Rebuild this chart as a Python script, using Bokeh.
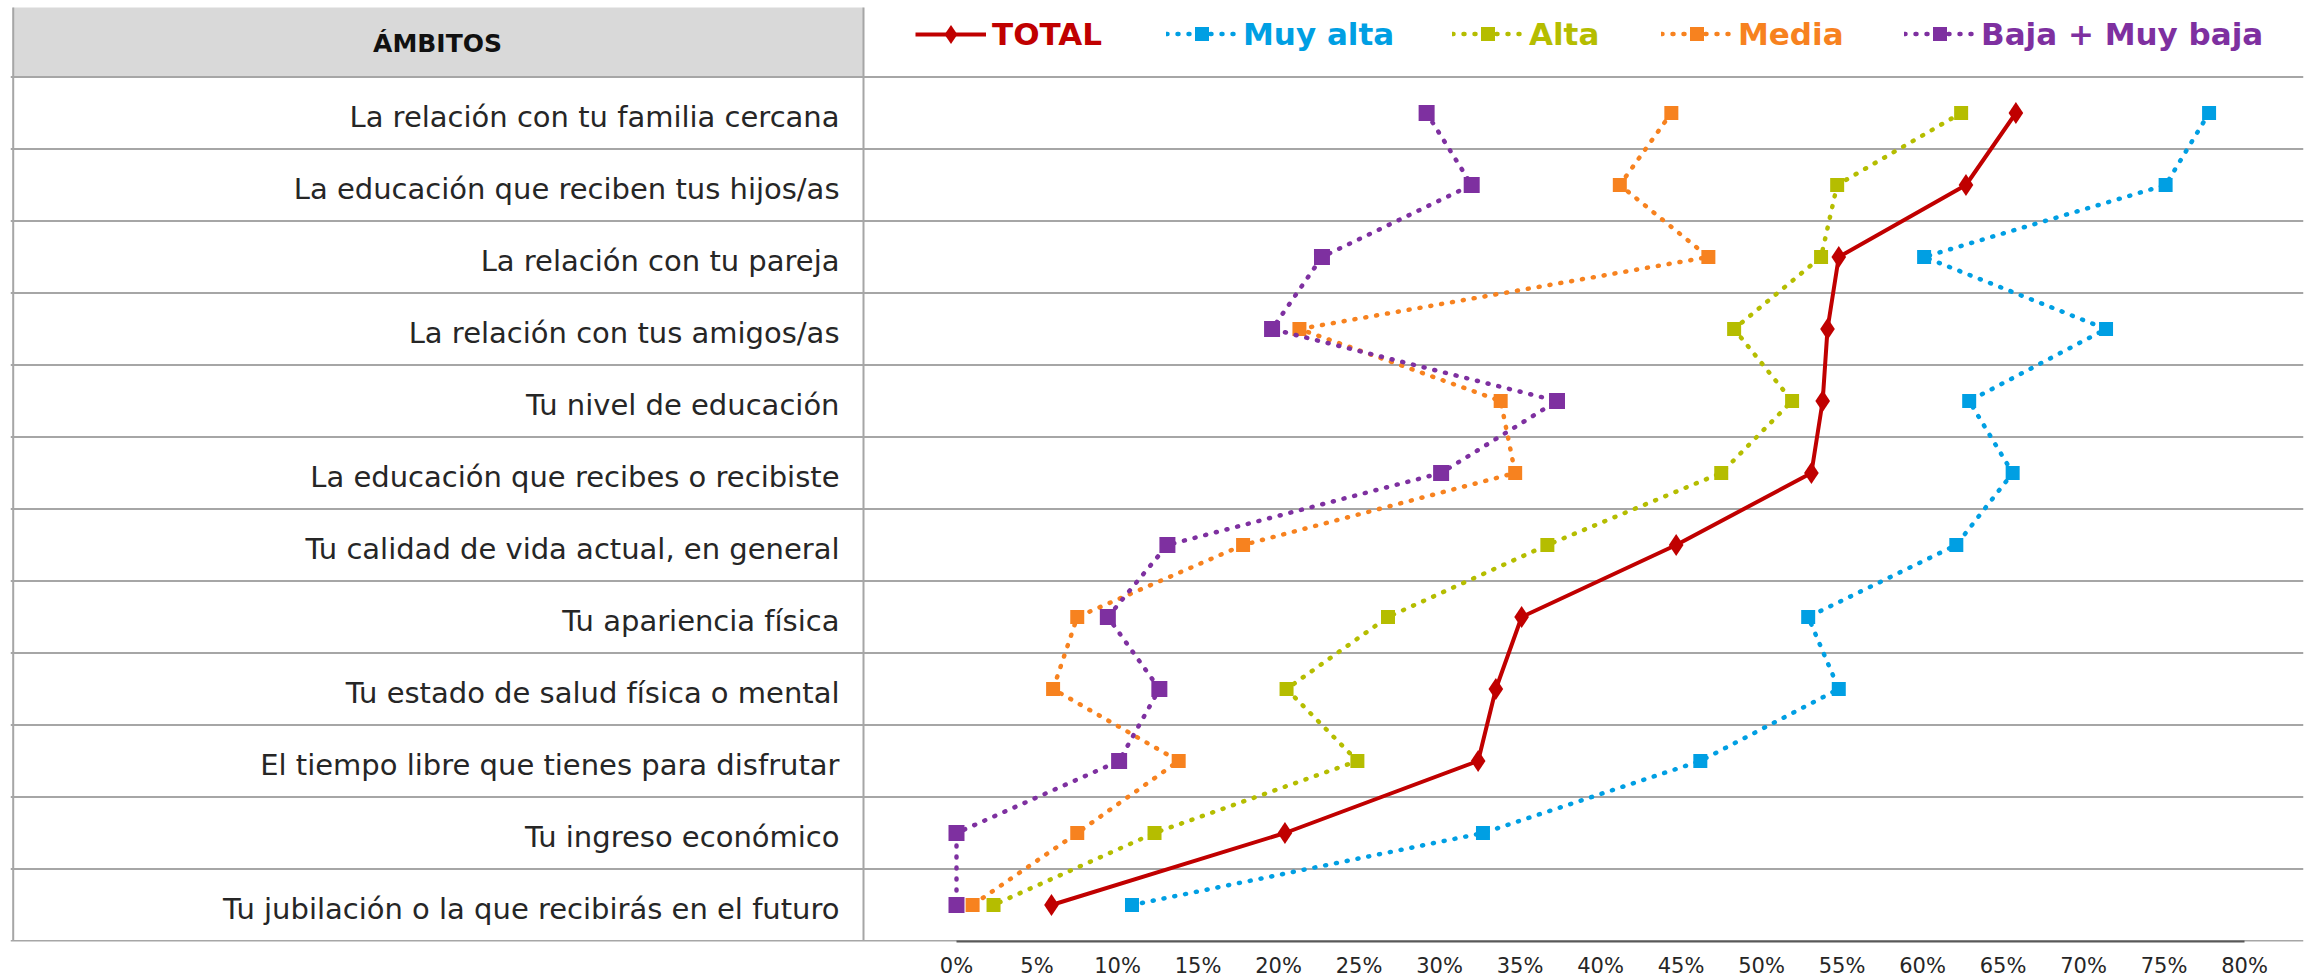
import math
from bokeh.plotting import figure
from bokeh.models import Range1d, FixedTicker, Legend, LegendItem
from bokeh.core.properties import value
from bokeh.embed import file_html
from bokeh.resources import INLINE

# ---------------- data ----------------
CATEGORIES = [
    "La relación con tu familia cercana",
    "La educación que reciben tus hijos/as",
    "La relación con tu pareja",
    "La relación con tus amigos/as",
    "Tu nivel de educación",
    "La educación que recibes o recibiste",
    "Tu calidad de vida actual, en general",
    "Tu apariencia física",
    "Tu estado de salud física o mental",
    "El tiempo libre que tienes para disfrutar",
    "Tu ingreso económico",
    "Tu jubilación o la que recibirás en el futuro",
]
TOTAL = [65.8, 62.7, 54.8, 54.1, 53.8, 53.1, 44.7, 35.1, 33.5, 32.4, 20.4, 5.9]
MUY_ALTA = [77.8, 75.1, 60.1, 71.4, 62.9, 65.6, 62.1, 52.9, 54.8, 46.2, 32.7, 10.9]
ALTA = [62.4, 54.7, 53.7, 48.3, 51.9, 47.5, 36.7, 26.8, 20.5, 24.9, 12.3, 2.3]
MEDIA = [44.4, 41.2, 46.7, 21.3, 33.8, 34.7, 17.8, 7.5, 6.0, 13.8, 7.5, 1.0]
BAJA = [29.2, 32.0, 22.7, 19.6, 37.3, 30.1, 13.1, 9.4, 12.6, 10.1, 0.0, 0.0]

SERIES_NAMES = ["TOTAL", "Muy alta", "Alta", "Media", "Baja + Muy baja"]
HEADER = "ÁMBITOS"
TICKS = [0, 5, 10, 15, 20, 25, 30, 35, 40, 45, 50, 55, 60, 65, 70, 75, 80]
TICK_LABELS = ["0%", "5%", "10%", "15%", "20%", "25%", "30%", "35%", "40%",
               "45%", "50%", "55%", "60%", "65%", "70%", "75%", "80%"]

# ---------------- layout constants (page pixels) ----------------
W, H = 2305, 980
FRAME_L, FRAME_R, FRAME_T, FRAME_B = 10, 2303, 7, 941
X0_PX, PX_PER_PCT = 956.0, 16.1
Y0_PX, ROW_PX = 940.5, 72.0


def sx(px):
    return (px - X0_PX) / PX_PER_PCT


def sy(py):
    return (Y0_PX - py) / ROW_PX


p = figure(
    frame_width=FRAME_R - FRAME_L, frame_height=FRAME_B - FRAME_T,
    x_range=Range1d(sx(FRAME_L), sx(FRAME_R)),
    y_range=Range1d(sy(FRAME_B), sy(FRAME_T)),
    output_backend="svg", toolbar_location=None,
    y_axis_location=None,
    min_border_left=FRAME_L,
    min_border_right=W - FRAME_R,
    min_border_top=FRAME_T,
    min_border_bottom=H - FRAME_B,
)
p.outline_line_color = None
p.xgrid.visible = False
p.ygrid.visible = False
p.background_fill_color = "white"
p.border_fill_color = "white"

n = len(CATEGORIES)
row_y = [n - 1 - i + 0.5 for i in range(n)]
top_y = sy(FRAME_T) + 0.05

# ---------------- table ----------------
GRID = "#A6A6A6"
p.quad(left=[sx(12.7)], right=[sx(863)], bottom=[n], top=[top_y],
       fill_color="#D9D9D9", line_color=None)
p.segment(x0=[sx(FRAME_L)] * (n + 1), x1=[sx(FRAME_R)] * (n + 1),
          y0=list(range(n + 1)), y1=list(range(n + 1)),
          line_color=GRID, line_width=2)
p.segment(x0=[sx(12.7), sx(863)], x1=[sx(12.7), sx(863)],
          y0=[0, 0], y1=[top_y, top_y], line_color=GRID, line_width=2)

p.text(x=[sx(839)] * n, y=row_y, text=CATEGORIES,
       text_align="right", text_baseline="middle", y_offset=4,
       text_font=value("DejaVu Sans"), text_font_size="29px",
       text_color="#262626")
p.text(x=[sx(437)], y=[sy(43)], text=[HEADER],
       text_align="center", text_baseline="middle",
       text_font=value("DejaVu Sans"), text_font_style="bold",
       text_font_size="25px", text_color="#111111")

# ---------------- series ----------------
renderers = {}
dotted = [
    ("Muy alta", MUY_ALTA, "#009FE3", 14),
    ("Alta", ALTA, "#B5BD00", 14),
    ("Media", MEDIA, "#F7821F", 14),
    ("Baja + Muy baja", BAJA, "#7E30A0", 16),
]
for name, vals, col, msize in dotted:
    lr = p.line(x=vals, y=row_y, line_color=col, line_width=4.5,
                line_dash="1 10", line_cap="round")
    sr = p.scatter(x=vals, y=row_y, marker="square", size=msize,
                   fill_color=col, line_color=None)
    renderers[name] = (lr, sr, col)

lr = p.line(x=TOTAL, y=row_y, line_color="#C00000", line_width=4)
sr = p.scatter(x=TOTAL, y=row_y, marker="diamond", size=22,
               fill_color="#C00000", line_color=None)
renderers["TOTAL"] = (lr, sr, "#C00000")

# ---------------- legends ----------------
LEG_LEFT = {"TOTAL": 915, "Muy alta": 1166, "Alta": 1452, "Media": 1661,
            "Baja + Muy baja": 1904}
LEG_GH = {"TOTAL": 48, "Muy alta": 35, "Alta": 35, "Media": 35,
          "Baja + Muy baja": 35}
LEG_CY = 34
for name in SERIES_NAMES:
    lr, sr, col = renderers[name]
    gh = LEG_GH[name]
    leg = Legend(
        items=[LegendItem(label=name, renderers=[lr, sr])],
        location=(LEG_LEFT[name] - FRAME_L, FRAME_B - (LEG_CY + gh / 2)),
        orientation="horizontal", padding=0, margin=0, spacing=0,
        glyph_width=71, glyph_height=gh, label_height=gh,
        label_standoff=6,
        label_text_font="DejaVu Sans", label_text_font_style="bold",
        label_text_font_size="31px", label_text_color=col,
        border_line_color=None, background_fill_alpha=0,
    )
    p.add_layout(leg, "center")

# ---------------- axis ----------------
ax = p.xaxis[0]
ax.ticker = FixedTicker(ticks=TICKS)
ax.major_label_overrides = dict(zip(TICKS, TICK_LABELS))
ax.bounds = (0, 80)
ax.axis_line_color = "#595959"
ax.axis_line_width = 2
ax.major_tick_line_color = None
ax.minor_tick_line_color = None
ax.major_tick_in = 0
ax.major_tick_out = 0
ax.minor_tick_in = 0
ax.minor_tick_out = 0
ax.major_label_standoff = 12
ax.major_label_text_font = "DejaVu Sans"
ax.major_label_text_font_size = "21px"
ax.major_label_text_color = "#262626"

open("out.html", "w").write(file_html(p, INLINE))
